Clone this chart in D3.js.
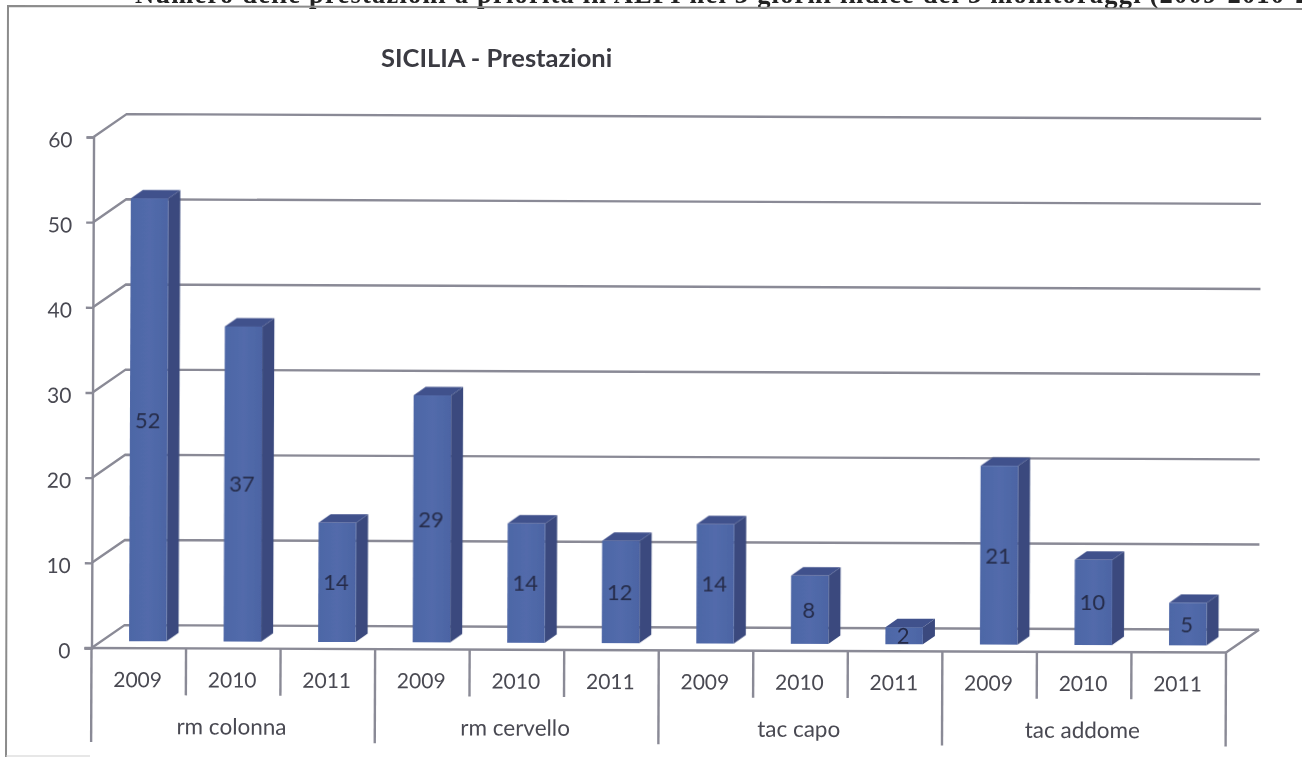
<!DOCTYPE html>
<html><head><meta charset="utf-8">
<script src="https://cdn.jsdelivr.net/npm/d3@7"></script>
<style>
html,body{margin:0;padding:0;background:#fff;overflow:hidden}
svg{display:block}
text{font-family:Lato,"Open Sans",sans-serif;fill:#4a4a52}
</style></head><body>
<svg id="c" width="1302" height="757"></svg>
<script>
const chartTitle = "SICILIA - Prestazioni";
const headerText = "Numero delle prestazioni a priorità in ALPI nei 3 giorni indice dei 3 monitoraggi (2009-2010-2011)";
const groups = ["rm colonna","rm cervello","tac capo","tac addome"];
const years = ["2009","2010","2011"];
const values = [52,37,14,29,14,12,14,8,2,21,10,5];
const yTicks = [0,10,20,30,40,50,60];

const svg = d3.select("#c");
const defs = svg.append("defs");
const f = defs.append("filter").attr("id","scan").attr("x","-2%").attr("y","-2%").attr("width","104%").attr("height","104%");
f.append("feGaussianBlur").attr("stdDeviation",0.6);
const grad = defs.append("linearGradient").attr("id","front").attr("x1",0).attr("x2",1).attr("y1",0).attr("y2",0);
grad.append("stop").attr("offset",0).attr("stop-color","#4d66a6");
grad.append("stop").attr("offset",0.5).attr("stop-color","#526bab");
grad.append("stop").attr("offset",1).attr("stop-color","#4c64a4");

const page = svg.append("g").attr("filter","url(#scan)");
page.append("text").text(headerText)
  .attr("x",135).attr("y",3)
  .style("font-family","'Liberation Serif',serif").style("font-weight","700").style("font-size","26.5px")
  .style("letter-spacing","1.2px").style("fill","#222");
page.append("path").attr("d","M6,757L8,6L1302,9").attr("fill","none").attr("stroke","#8b8b8b").attr("stroke-width",2);
page.append("path").attr("d","M6,756H90").attr("fill","none").attr("stroke","#cfcfcf").attr("stroke-width",1);

page.append("text").text(chartTitle).attr("x",381).attr("y",67)
  .style("font-weight","700").style("font-size","25.5px").style("fill","#3a3a42");

const x0 = 91.5, y0 = 648, x1 = 1226;
const g = page.append("g").attr("transform",`rotate(0.23 ${x0} ${y0})`);

const cats = groups.flatMap(gr => years.map(yr => gr+"|"+yr));
const x = d3.scaleBand().domain(cats).range([x0,x1]);
const y = d3.scaleLinear().domain([0,60]).range([y0,137]);
const gridCol = "#8a8a96";
const depthX = 33, depthY = 23, wallRight = x1 + depthX;

const grid = g.append("g").attr("fill","none").attr("stroke",gridCol).attr("stroke-width",2.4);
grid.selectAll("path").data(yTicks).join("path")
  .attr("d",d=>`M${x0},${y(d)}L${x0+depthX},${y(d)-depthY}H${wallRight}`);
grid.append("path").attr("d",`M${x1},${y0}L${wallRight},${y0-depthY}`);

const yAxis = g.append("g").attr("transform",`translate(${x0},0)`)
  .call(d3.axisLeft(y).tickValues(yTicks).tickSize(7).tickPadding(14));
yAxis.selectAll("path,line").attr("stroke",gridCol).attr("stroke-width",2.4);
yAxis.selectAll("text").attr("dy","0.47em").style("font-size","21px").style("font-family","Lato,sans-serif").style("fill","#4a4a52");

const axisG = g.append("g").attr("fill","none").attr("stroke",gridCol).attr("stroke-width",2.4);
axisG.append("path").attr("d",`M${x0-7},${y0}H${x1}`);
const catIdx = d3.range(cats.length+1);
const edge = i => i<cats.length ? x(cats[i]) : x1;
axisG.selectAll("line").data(catIdx).join("line")
  .attr("x1",edge).attr("x2",edge).attr("y1",y0)
  .attr("y2",i=> i%years.length===0 ? 742 : 695);

g.append("g").selectAll("text").data(cats).join("text")
  .text(d=>d.split("|")[1])
  .attr("x",d=>x(d)+x.bandwidth()/2 -1).attr("y",687).attr("text-anchor","middle")
  .style("font-size","21px");
g.append("g").selectAll("text").data(groups).join("text")
  .text(d=>d)
  .attr("x",d=>x(d+"|"+years[1])+x.bandwidth()/2 -1.5).attr("y",734).attr("text-anchor","middle")
  .style("font-size","22.5px");

const bw = 37.5, offX = 9, offY = 7, dX = 12, dY = 8.5;
const bars = g.append("g").selectAll("g").data(values).join("g")
  .attr("transform",(d,i)=>`translate(${x(cats[i])+x.bandwidth()/2+offX-bw/2},${-offY})`);
bars.append("path").attr("fill","#3b4a7e")
  .attr("d",d=>`M${bw},${y(d)}l${dX},${-dY}V${y0-dY}l${-dX},${dY}Z`);
bars.append("path").attr("fill","#41518c")
  .attr("d",d=>`M0,${y(d)}l${dX},${-dY}h${bw}l${-dX},${dY}Z`);
bars.append("rect").attr("fill","url(#front)")
  .attr("x",0).attr("width",bw).attr("y",d=>y(d)).attr("height",d=>y0-y(d));
bars.append("text").text(d=>d)
  .attr("x",bw/2-1).attr("y",d=>(y(d)+y0)/2+8).attr("text-anchor","middle")
  .style("font-size","22px").style("fill","#262c4a");
</script></body></html>
